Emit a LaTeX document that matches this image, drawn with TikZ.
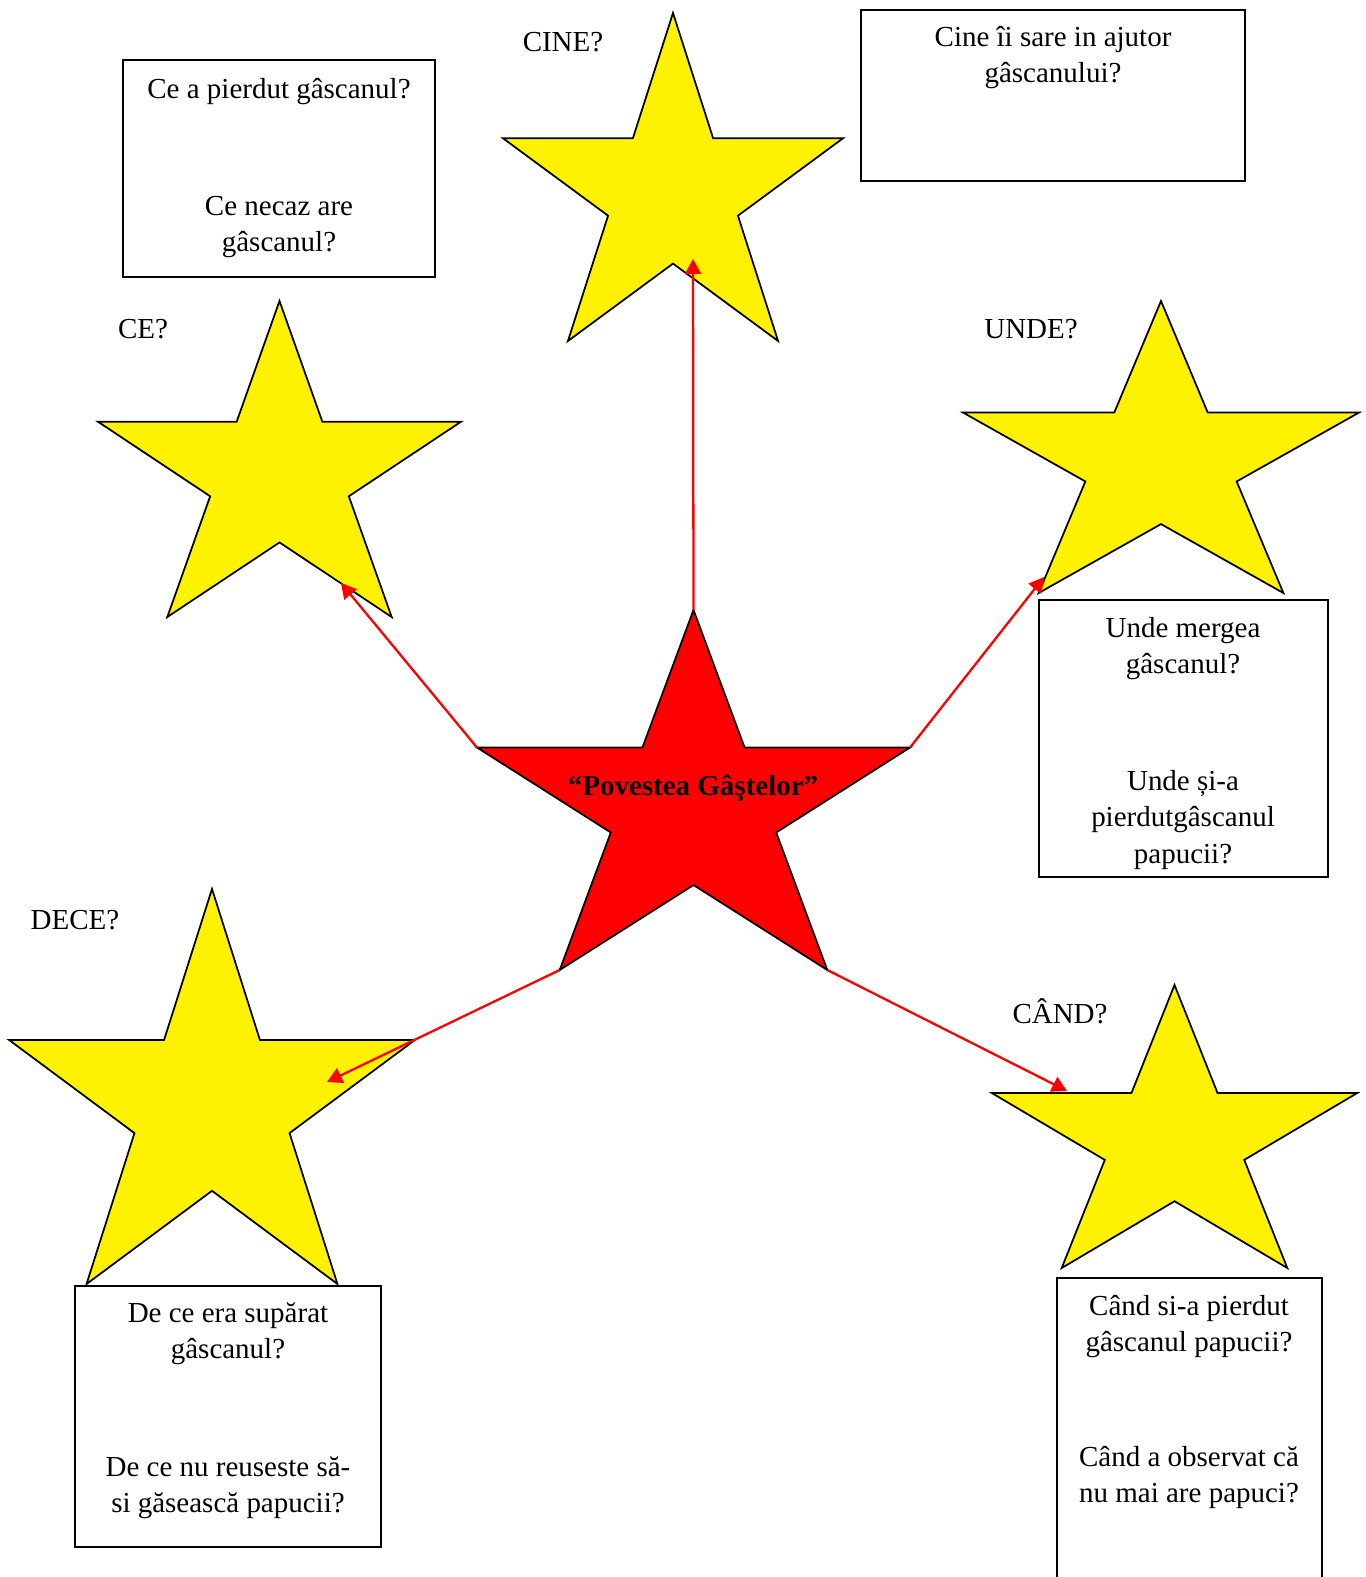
\documentclass[tikz,border=0pt]{standalone}
\usepackage{fontspec}
\setmainfont{Liberation Serif}
\usetikzlibrary{arrows.meta,fit}
\tikzset{
  pics/wstar/.style={code={
    \draw[pic actions] (0.5,0) -- (0.618,0.382) -- (1,0.382) -- (0.691,0.618)
      -- (0.809,1) -- (0.5,0.764) -- (0.191,1) -- (0.309,0.618) -- (0,0.382)
      -- (0.382,0.382) -- cycle;
    \coordinate (-top) at (0.5,0);
    \coordinate (-l) at (0,0.382);
    \coordinate (-r) at (1,0.382);
    \coordinate (-bl) at (0.191,1);
    \coordinate (-br) at (0.809,1);
  }}
}
\begin{document}
\begin{tikzpicture}[x=0.02cm,y=-0.02cm,
    txt/.style={font=\fontsize{16.5}{20.5}\selectfont},
    qbox/.style={draw,line width=1pt,inner sep=0pt},
    gold/.style={fill=yellow,line width=1pt},
    link/.style={red,line width=1.3pt,-{Triangle[length=0.3cm,width=0.32cm]}}]
\useasboundingbox (0,0) rectangle (1365,1577);
% stars
\pic[gold,xscale=340,yscale=328] (cine) at (503,13) {wstar};
\pic[gold,xscale=363,yscale=316] (ce) at (98,301) {wstar};
\pic[gold,xscale=396,yscale=292] (unde) at (963,301) {wstar};
\pic[gold,xscale=406,yscale=395] (dece) at (9,889) {wstar};
\pic[gold,xscale=365,yscale=283] (cand) at (992,985) {wstar};
\pic[fill=red,line width=1pt,xscale=433,yscale=360] (poveste) at (477,610) {wstar};
\node[txt,anchor=base] (titlu) at (693,795) {\bfseries “Povestea Gâştelor”};
% labels
\node[txt,anchor=base] (cinelbl) at (563,52) {CINE?};
\node[txt,anchor=base] (celbl) at (143,339) {CE?};
\node[txt,anchor=base] (undelbl) at (1031,339) {UNDE?};
\node[txt,anchor=base] (decelbl) at (75,929) {DECE?};
\node[txt,anchor=base] (candlbl) at (1060,1023) {CÂND?};
% boxes
\node[qbox,fit={(123,60)(435,277)}] (cebox) {};
\node[qbox,fit={(861,10)(1245,181)}] (cinebox) {};
\node[qbox,fit={(1039,600)(1328,877)}] (undebox) {};
\node[qbox,fit={(75,1286)(381,1547)}] (decebox) {};
\node[qbox,fit={(1057,1278)(1322,1600)}] (candbox) {};
\node[txt,align=center,anchor=base] (cetxt) at (279,252)
  {Ce a pierdut gâscanul?\\[1.62cm]Ce necaz are\\gâscanul?};
\node[txt,align=center,anchor=base] (cinetxt) at (1053,83)
  {Cine îi sare in ajutor\\gâscanului?};
\node[txt,align=center,anchor=base] (undetxt) at (1183,863)
  {Unde mergea\\gâscanul?\\[1.62cm]Unde și-a\\pierdutgâscanul\\papucii?};
\node[txt,align=center,anchor=base] (decetxt) at (228,1512)
  {De ce era supărat\\gâscanul?\\[1.62cm]De ce nu reuseste să-\\si găsească papucii?};
\node[txt,align=center,anchor=base] (candtxt) at (1189,1502)
  {Când si-a pierdut\\gâscanul papucii?\\[1.56cm]Când a observat că\\nu mai are papuci?};
% arrows
\coordinate (cinein) at (693,259);
\coordinate (cein) at (341,583);
\coordinate (undein) at (1044,577);
\coordinate (decein) at (327,1082);
\coordinate (candin) at (1067,1091);
\draw[link] (poveste-top) -- (cinein);
\draw[link] (poveste-l) -- (cein);
\draw[link] (poveste-r) -- (undein);
\draw[link] (poveste-bl) -- (decein);
\draw[link] (poveste-br) -- (candin);
\end{tikzpicture}
\end{document}
